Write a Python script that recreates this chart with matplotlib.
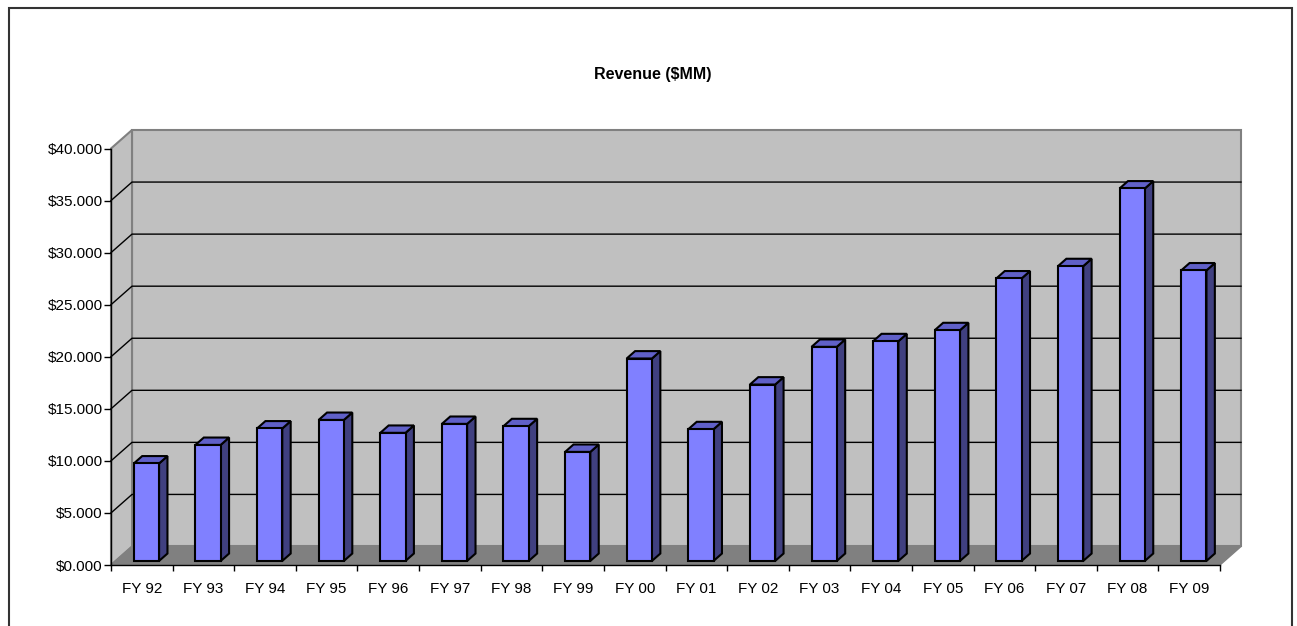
import numpy as np
import matplotlib
matplotlib.use('Agg')
import matplotlib.pyplot as plt
from matplotlib.patches import Polygon, Rectangle
from matplotlib.ticker import FuncFormatter, FixedLocator

plt.rcParams['font.family'] = ['Liberation Sans', 'DejaVu Sans']

# revenue by fiscal year, $MM
years = ['FY 92', 'FY 93', 'FY 94', 'FY 95', 'FY 96', 'FY 97', 'FY 98', 'FY 99', 'FY 00',
         'FY 01', 'FY 02', 'FY 03', 'FY 04', 'FY 05', 'FY 06', 'FY 07', 'FY 08', 'FY 09']
revenue = [9.36, 11.14, 12.72, 13.54, 12.30, 13.16, 12.94, 10.47, 19.44,
           12.65, 16.94, 20.56, 21.10, 22.16, 27.13, 28.31, 35.77, 27.90]
title = 'Revenue ($MM)'
ymax = 40
ystep = 5

# excel-ish 3d box
dx, dy = 0.341, 1.777      # depth offset in data units
bw = 0.41                  # bar width
d0, d1 = 0.22, 0.62        # bar depth range (fraction of box depth)

W, H = 1297, 626
fig = plt.figure(figsize=(W / 100, H / 100), dpi=100)
ax = fig.add_axes([111 / W, 61 / H, 1109 / W, 416.5 / H])
ax.patch.set_alpha(0)

n = len(years)
x0, x1 = -0.5, n - 0.5
ax.set_xlim(x0, x1)
ax.set_ylim(0, ymax)


def poly(pts, fc, ec, lw, z):
    ax.add_patch(Polygon(pts, closed=True, fc=fc, ec=ec, lw=lw, zorder=z,
                         clip_on=False, joinstyle='miter'))


# walls and floor
poly([(x0 + dx, dy), (x1 + dx, dy), (x1 + dx, ymax + dy), (x0 + dx, ymax + dy)],
     '#c0c0c0', '#808080', 1.5, 0)
poly([(x0, 0), (x0 + dx, dy), (x0 + dx, ymax + dy), (x0, ymax)],
     '#c0c0c0', '#808080', 1.5, 0)
poly([(x0, 0), (x1, 0), (x1 + dx, dy), (x0 + dx, dy)], '#808080', '#808080', 1, 1)

for v in np.arange(ystep, ymax, ystep):
    ax.plot([x0, x0 + dx, x1 + dx], [v, v + dy, v + dy], color='black', lw=1,
            zorder=1, clip_on=False)

# bars
ddx, ddy = (d1 - d0) * dx, (d1 - d0) * dy
for i, v in enumerate(revenue):
    L = i - bw / 2 + d0 * dx
    R = L + bw
    b = d0 * dy
    t = b + v
    poly([(R, b), (R + ddx, b + ddy), (R + ddx, t + ddy), (R, t)], '#404080', 'black', 1.5, 3)
    poly([(L, t), (R, t), (R + ddx, t + ddy), (L + ddx, t + ddy)], '#6060c8', 'black', 1.5, 3)
    poly([(L, b), (R, b), (R, t), (L, t)], '#8080ff', 'black', 1.5, 3)

for s in ['top', 'right']:
    ax.spines[s].set_visible(False)
for s in ['left', 'bottom']:
    ax.spines[s].set_color('black')
    ax.spines[s].set_linewidth(1)

ax.yaxis.set_major_locator(FixedLocator(np.arange(0, ymax + 1, ystep)))
ax.yaxis.set_major_formatter(FuncFormatter(lambda v, p: f'${v:.3f}'))
ax.tick_params(axis='y', direction='out', length=5, width=1, pad=1, labelsize=11)

ax.set_xticks(range(n))
ax.set_xticklabels(years)
ax.xaxis.set_minor_locator(FixedLocator(np.arange(x0, x1 + 0.1, 1)))
ax.tick_params(axis='x', which='major', length=0, pad=12, labelsize=11)
ax.tick_params(axis='x', which='minor', direction='out', length=4.5, width=1)

fig.text(653 / W, 1 - 75 / H, title, ha='center', va='center',
         fontweight='bold', fontsize=11.5)

# chart border
fig.add_artist(Rectangle((8.5 / W, -0.05), (1291.5 - 8.5) / W, 1 - 8 / H + 0.05,
                         transform=fig.transFigure, fill=False, ec='#333333', lw=1.5))

fig.savefig('out.png', dpi=100)
